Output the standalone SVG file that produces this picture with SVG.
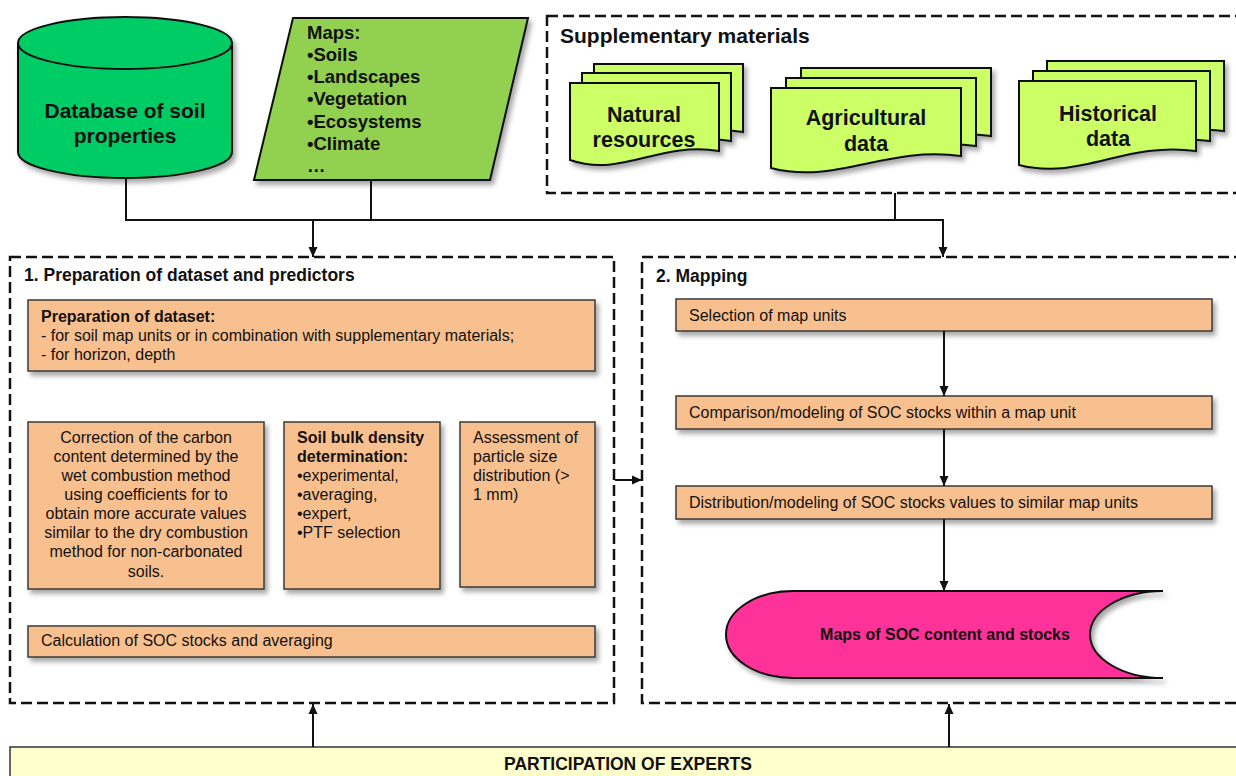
<svg xmlns="http://www.w3.org/2000/svg" xmlns:xlink="http://www.w3.org/1999/xlink" width="1236" height="776" viewBox="0 0 1236 776">
<style>
text{font-family:"Liberation Sans",Arial,sans-serif;fill:#111}
.b{font-weight:bold}
.dash{fill:none;stroke:#111;stroke-width:2.5;stroke-dasharray:11 5}
.ob{fill:#F9C08F;stroke:#3a3a3a;stroke-width:1.5}
.doc{fill:#CCFF66;stroke:#111;stroke-width:2}
.con{fill:none;stroke:#111;stroke-width:2}
.t16{font-size:16px}
.t17{font-size:17.5px}
.t18{font-size:18.5px}
.t21{font-size:21px}
.tdoc{font-size:21.5px}
</style>
<defs>
<filter id="sh" x="-10%" y="-10%" width="125%" height="140%">
<feDropShadow dx="3" dy="4" stdDeviation="2.5" flood-color="#000" flood-opacity="0.35"/>
</filter>
<marker id="ah" viewBox="0 0 10 10" refX="10" refY="5" markerWidth="10" markerHeight="10" markerUnits="userSpaceOnUse" orient="auto">
<path d="M0,0.5 L10,5 L0,9.5 Z" fill="#111"/>
</marker>
<path id="docN" d="M0,0 H149 V68 C89,58 52,95 0,77 Z"/>
<path id="docA" d="M0,0 H190 V68 C114,58 66,97 0,80 Z"/>
<path id="docH" d="M0,0 H177 V70 C106,60 62,100 0,84 Z"/>
</defs>

<rect width="1236" height="776" fill="#fff"/>

<g id="db" filter="url(#sh)">
<path d="M18,43 V152 A107 26 0 0 0 232,152 V43 Z" fill="#00CC66" stroke="#111" stroke-width="2"/>
<ellipse cx="125" cy="43" rx="107" ry="26" fill="#00CC66" stroke="#111" stroke-width="2"/>
</g>
<g id="db-label">
<text class="b t21" x="125" y="118" text-anchor="middle">Database of soil</text>
<text class="b t21" x="125" y="143" text-anchor="middle">properties</text>
</g>

<g id="maps">
<polygon points="293,18 528,18 490,180 254,180" fill="#92D050" stroke="#111" stroke-width="2" filter="url(#sh)"/>
<text class="b t18" x="307" y="39">Maps:</text>
<text class="b t18" x="307" y="61">•Soils</text>
<text class="b t18" x="307" y="83">•Landscapes</text>
<text class="b t18" x="307" y="105">•Vegetation</text>
<text class="b t18" x="307" y="128">•Ecosystems</text>
<text class="b t18" x="307" y="150">•Climate</text>
<text class="b t18" x="307" y="172">…</text>
</g>

<g id="supplementary">
<rect class="dash" x="547" y="16" width="700" height="177"/>
<text class="b t21" x="560" y="43">Supplementary materials</text>
<g id="natural" filter="url(#sh)">
<use xlink:href="#docN" href="#docN" class="doc" x="594" y="64"/>
<use xlink:href="#docN" href="#docN" class="doc" x="582" y="73"/>
<use xlink:href="#docN" href="#docN" class="doc" x="570" y="83"/>
</g>
<text class="b tdoc" x="644" y="122" text-anchor="middle">Natural</text>
<text class="b tdoc" x="644" y="147" text-anchor="middle">resources</text>
<g id="agricultural" filter="url(#sh)">
<use xlink:href="#docA" href="#docA" class="doc" x="801" y="68"/>
<use xlink:href="#docA" href="#docA" class="doc" x="786" y="78"/>
<use xlink:href="#docA" href="#docA" class="doc" x="771" y="88"/>
</g>
<text class="b tdoc" x="866" y="125" text-anchor="middle">Agricultural</text>
<text class="b tdoc" x="866" y="151" text-anchor="middle">data</text>
<g id="historical" filter="url(#sh)">
<use xlink:href="#docH" href="#docH" class="doc" x="1047" y="61"/>
<use xlink:href="#docH" href="#docH" class="doc" x="1033" y="71"/>
<use xlink:href="#docH" href="#docH" class="doc" x="1019" y="81"/>
</g>
<text class="b tdoc" x="1108" y="121" text-anchor="middle">Historical</text>
<text class="b tdoc" x="1108" y="146" text-anchor="middle">data</text>
</g>

<g id="prep">
<rect class="dash" x="10" y="257" width="604" height="446"/>
<text class="b t17" x="24" y="281">1. Preparation of dataset and predictors</text>
</g>
<g id="prep-dataset">
<rect class="ob" x="28" y="300" width="567" height="71" filter="url(#sh)"/>
<text class="b t16" x="41" y="322">Preparation of dataset:</text>
<text class="t16" x="41" y="341">- for soil map units or in combination with supplementary materials;</text>
<text class="t16" x="41" y="360">- for horizon, depth</text>
</g>
<g id="correction">
<rect class="ob" x="28" y="422" width="236" height="167" filter="url(#sh)"/>
<text class="t16" text-anchor="middle" x="146" y="443">Correction of the carbon</text>
<text class="t16" text-anchor="middle" x="146" y="462">content determined by the</text>
<text class="t16" text-anchor="middle" x="146" y="481">wet combustion method</text>
<text class="t16" text-anchor="middle" x="146" y="500">using coefficients for to</text>
<text class="t16" text-anchor="middle" x="146" y="519">obtain more accurate values</text>
<text class="t16" text-anchor="middle" x="146" y="538">similar to the dry combustion</text>
<text class="t16" text-anchor="middle" x="146" y="557">method for non-carbonated</text>
<text class="t16" text-anchor="middle" x="146" y="577">soils.</text>
</g>
<g id="bulk">
<rect class="ob" x="284" y="422" width="156" height="167" filter="url(#sh)"/>
<text class="b t16" x="297" y="443">Soil bulk density</text>
<text class="b t16" x="297" y="462">determination:</text>
<text class="t16" x="297" y="481">•experimental,</text>
<text class="t16" x="297" y="500">•averaging,</text>
<text class="t16" x="297" y="519">•expert,</text>
<text class="t16" x="297" y="538">•PTF selection</text>
</g>
<g id="particle">
<rect class="ob" x="460" y="422" width="135" height="165" filter="url(#sh)"/>
<text class="t16" x="473" y="443">Assessment of</text>
<text class="t16" x="473" y="462">particle size</text>
<text class="t16" x="473" y="481">distribution (&gt;</text>
<text class="t16" x="473" y="500">1 mm)</text>
</g>
<g id="calc">
<rect class="ob" x="28" y="626" width="567" height="31" filter="url(#sh)"/>
<text class="t16" x="41" y="646">Calculation of SOC stocks and averaging</text>
</g>

<g id="mapping">
<rect class="dash" x="642" y="257" width="610" height="446"/>
<text class="b t17" x="656" y="282">2. Mapping</text>
</g>
<g id="selection">
<rect class="ob" x="676" y="299" width="536" height="32" filter="url(#sh)"/>
<text class="t16" x="689" y="321">Selection of map units</text>
</g>
<g id="comparison">
<rect class="ob" x="676" y="396" width="536" height="33" filter="url(#sh)"/>
<text class="t16" x="689" y="418">Comparison/modeling of SOC stocks within a map unit</text>
</g>
<g id="distribution">
<rect class="ob" x="676" y="486" width="536" height="33" filter="url(#sh)"/>
<text class="t16" x="689" y="508">Distribution/modeling of SOC stocks values to similar map units</text>
</g>
<g id="maps-soc">
<path d="M793,591 H1163 A73 43.5 0 0 0 1163,678 H793 A67 43.5 0 0 1 793,591 Z" fill="#FF3399" stroke="#111" stroke-width="2" filter="url(#sh)"/>
<text class="b t16" x="945" y="640" text-anchor="middle">Maps of SOC content and stocks</text>
</g>

<g id="experts">
<rect x="10" y="747" width="1240" height="40" fill="#FFFFCC" stroke="#333" stroke-width="1.5"/>
<text class="b" style="font-size:17.5px" x="628" y="770" text-anchor="middle">PARTICIPATION OF EXPERTS</text>
</g>

<g id="connectors">
<path class="con" d="M126,178 V220 H943 V257" marker-end="url(#ah)"/>
<path class="con" d="M313,220 V257" marker-end="url(#ah)"/>
<path class="con" d="M371,180 V220"/>
<path class="con" d="M895,193 V220"/>
<path class="con" d="M615,480 H642" marker-end="url(#ah)"/>
<path class="con" d="M944,331 V396" marker-end="url(#ah)"/>
<path class="con" d="M944,429 V486" marker-end="url(#ah)"/>
<path class="con" d="M944,519 V591" marker-end="url(#ah)"/>
<path class="con" d="M313,747 V704" marker-end="url(#ah)"/>
<path class="con" d="M949,747 V704" marker-end="url(#ah)"/>
</g>
</svg>
